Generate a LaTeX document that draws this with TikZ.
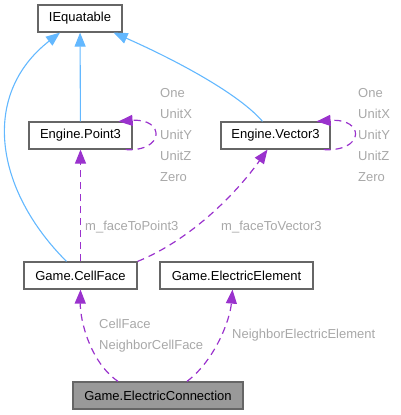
\documentclass[tikz,border=0pt]{standalone}
\usepackage{fontspec}
\setmainfont{Liberation Sans}
\usetikzlibrary{arrows.meta}

\definecolor{inhblue}{HTML}{63B8FF}
\definecolor{usepurple}{HTML}{9A32CD}
\definecolor{lblgray}{HTML}{A8A8A8}
\definecolor{boxgray}{HTML}{666666}

\begin{document}
\begin{tikzpicture}[x=1pt, y=-1pt,
    cls/.style={draw=boxgray, line width=1.2pt, fill=white, minimum height=27pt,
      inner sep=0pt, font=\fontsize{13}{15}\selectfont},
    inh/.style={inhblue, line width=1.1pt, -{Triangle[length=14pt,width=11pt]}},
    dep/.style={usepurple, line width=1.2pt, dash pattern=on 7pt off 5pt,
      -{Triangle[length=14pt,width=11pt]}},
    lbl/.style={lblgray, inner sep=0pt, align=left, font=\fontsize{13}{21}\selectfont}]

  \useasboundingbox (0, 0) rectangle (401, 415);

  % classes
  \node[cls, minimum width=84pt] (ieq) at (80, 18.5) {IEquatable};
  \node[cls, minimum width=103pt] (point) at (80.5, 135.5) {Engine.Point3};
  \node[cls, minimum width=109pt] (vector) at (275.5, 135.5) {Engine.Vector3};
  \node[cls, minimum width=113pt] (cellface) at (80.5, 275.5) {Game.CellFace};
  \node[cls, minimum width=153pt] (elem) at (236.5, 275.5) {Game.ElectricElement};
  \node[cls, minimum width=170pt, fill=black!40] (conn) at (158, 395.5) {Game.ElectricConnection};

  % inheritance
  \draw[inh] (point) -- (ieq);
  \draw[inh] ([xshift=-14pt]cellface.north) .. controls (-5, 190) and (-20, 95) .. ([xshift=-20pt]ieq.south);
  \draw[inh] ([xshift=-13pt]vector.north) .. controls (240, 95) and (180, 62) .. ([xshift=-9pt]ieq.south east);

  % usage
  \draw[dep] ([xshift=-7pt]point.south east) .. controls (165, 152) and (165, 118) .. ([xshift=-14pt]point.north east);
  \draw[dep] ([xshift=-7pt]vector.south east) .. controls (365, 152) and (365, 118) .. ([xshift=-14pt]vector.north east);
  \draw[dep] (cellface) -- (point);
  \draw[dep] (cellface.north east) .. controls (190, 240) and (235, 195) .. ([xshift=-8pt]vector.south);
  \draw[dep] ([xshift=-40pt]conn.north) .. controls (90, 362) and (80, 320) .. (cellface.south);
  \draw[dep] ([xshift=29pt]conn.north) .. controls (215, 360) and (230, 320) .. ([xshift=-4pt]elem.south);

  % labels
  \node[lbl, anchor=west] (pmem) at (160, 135.5) {One\\UnitX\\UnitY\\UnitZ\\Zero};
  \node[lbl, anchor=west] (vmem) at (358, 135.5) {One\\UnitX\\UnitY\\UnitZ\\Zero};
  \node[lbl, anchor=west] (ptlbl) at (85, 227) {m\_faceToPoint3};
  \node[lbl, anchor=west] (veclbl) at (221, 227) {m\_faceToVector3};
  \node[lbl, anchor=west] (celllbl) at (99, 335.5) {CellFace\\NeighborCellFace};
  \node[lbl, anchor=west] (elemlbl) at (232, 335) {NeighborElectricElement};

\end{tikzpicture}
\end{document}
